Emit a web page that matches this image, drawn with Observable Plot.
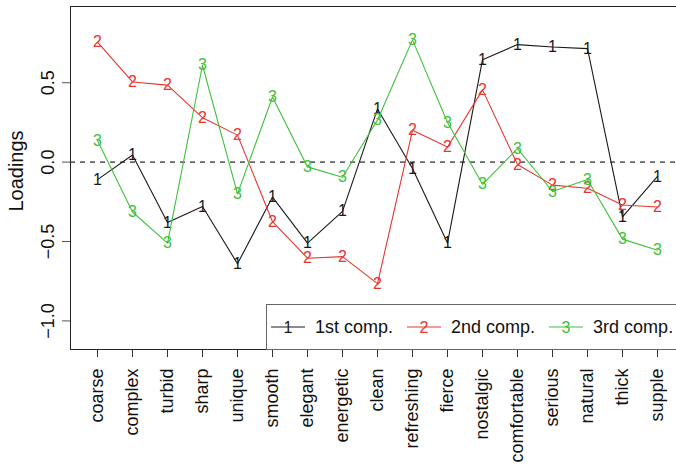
<!DOCTYPE html>
<html>
<head>
<meta charset="utf-8">
<script src="https://cdn.jsdelivr.net/npm/d3@7"></script>
<script src="https://cdn.jsdelivr.net/npm/@observablehq/plot@0.6"></script>
<style>
  html, body { margin: 0; padding: 0; background: #fff; overflow: hidden; }
  #wrap { position: relative; width: 676px; height: 467px; overflow: hidden; }
  #ylabel {
    position: absolute; left: 16px; top: 171px;
    transform: translate(-50%, -50%) rotate(-90deg);
    font-family: "Liberation Sans", Arial, Helvetica, sans-serif; font-size: 20px;
    line-height: 1; white-space: nowrap; color: #111;
  }
  #legend {
    position: absolute; left: 266px; top: 304px; width: 440px; height: 46px;
    box-sizing: border-box; border: 1px solid #666; background: #fff;
    display: flex; align-items: center; padding-left: 4px;
    font-family: "Liberation Sans", Arial, Helvetica, sans-serif; font-size: 18px; color: #111;
  }
  #legend .key { display: block; margin-right: 10px; }
  #legend .name { margin-right: 14px; white-space: nowrap; }
</style>
</head>
<body>
<div id="wrap">
  <div id="chart"></div>
  <div id="ylabel"></div>
  <div id="legend"></div>
</div>
<script>
// Sensory attributes on the x axis
const attributes = ["coarse", "complex", "turbid", "sharp", "unique", "smooth", "elegant",
  "energetic", "clean", "refreshing", "fierce", "nostalgic", "comfortable", "serious",
  "natural", "thick", "supple"];

// Loadings of each principal component
const comp1 = [-0.11, 0.045, -0.38, -0.28, -0.64, -0.22, -0.51, -0.31, 0.335, -0.04,
  -0.51, 0.645, 0.74, 0.725, 0.715, -0.345, -0.09];
const comp2 = [0.755, 0.505, 0.485, 0.28, 0.17, -0.375, -0.605, -0.595, -0.765, 0.2,
  0.095, 0.455, -0.015, -0.145, -0.165, -0.27, -0.283];
const comp3 = [0.136, -0.314, -0.51, 0.61, -0.2, 0.41, -0.03, -0.095, 0.265, 0.77,
  0.25, -0.14, 0.085, -0.185, -0.11, -0.485, -0.555];

const seriesNames = ["1st comp.", "2nd comp.", "3rd comp."];
const seriesSymbols = ["1", "2", "3"];
const seriesColors = ["#1a1a1a", "#e6362e", "#3fc23a"];

const yTicks = [-1.0, -0.5, 0.0, 0.5];
const yLabel = "Loadings";

const seriesValues = [comp1, comp2, comp3];
const seriesRows = seriesValues.map(vals =>
  vals.map((v, i) => ({attribute: attributes[i], loading: v})));

const fontFamily = "'Liberation Sans', Arial, Helvetica, sans-serif";

const marks = [
  Plot.ruleY([0], {stroke: "#666", strokeWidth: 1.7, strokeDasharray: "5,5"}),
  Plot.axisX({tickRotate: -90, tickSize: 8, tickPadding: 11, label: null, stroke: "#333", fill: "#111"}),
  Plot.axisY({ticks: yTicks, tickFormat: d => d.toFixed(1).replace("-", "\u2212"),
    tickRotate: -90, tickSize: 8, tickPadding: 9, label: null, stroke: "#555", fill: "#111"})
];

// Each component: a thin line through the loadings, with its number at every point
seriesRows.forEach((rows, s) => {
  marks.push(Plot.line(rows, {x: "attribute", y: "loading", stroke: seriesColors[s], strokeWidth: 1.1}));
  marks.push(Plot.text(rows, {x: "attribute", y: "loading", text: () => seriesSymbols[s],
    fill: seriesColors[s], fontSize: 16}));
});

marks.push(Plot.frame({stroke: "#222"}));

const chart = Plot.plot({
  width: 683,
  height: 467,
  marginLeft: 70,
  marginRight: 0,
  marginTop: 6,
  marginBottom: 118,
  style: {fontFamily, fontSize: "18px", maxWidth: "none", background: "white", overflow: "visible"},
  x: {type: "point", domain: attributes, padding: 0.64},
  y: {domain: [-1.18, 0.98]},
  marks
});
document.getElementById("chart").appendChild(chart);

document.getElementById("ylabel").textContent = yLabel;

// Legend: line segment with the series symbol, then its name
const legend = d3.select("#legend");
seriesNames.forEach((name, s) => {
  const key = legend.append("svg").attr("class", "key").attr("width", 34).attr("height", 20);
  key.append("line").attr("x1", 0).attr("x2", 34).attr("y1", 10).attr("y2", 10)
    .attr("stroke", seriesColors[s]).attr("stroke-width", 1.1);
  key.append("text").attr("x", 17).attr("y", 10).attr("dy", "0.36em")
    .attr("text-anchor", "middle").attr("fill", seriesColors[s])
    .style("font-family", fontFamily).style("font-size", "16px").text(seriesSymbols[s]);
  legend.append("span").attr("class", "name").text(name);
});
</script>
</body>
</html>
